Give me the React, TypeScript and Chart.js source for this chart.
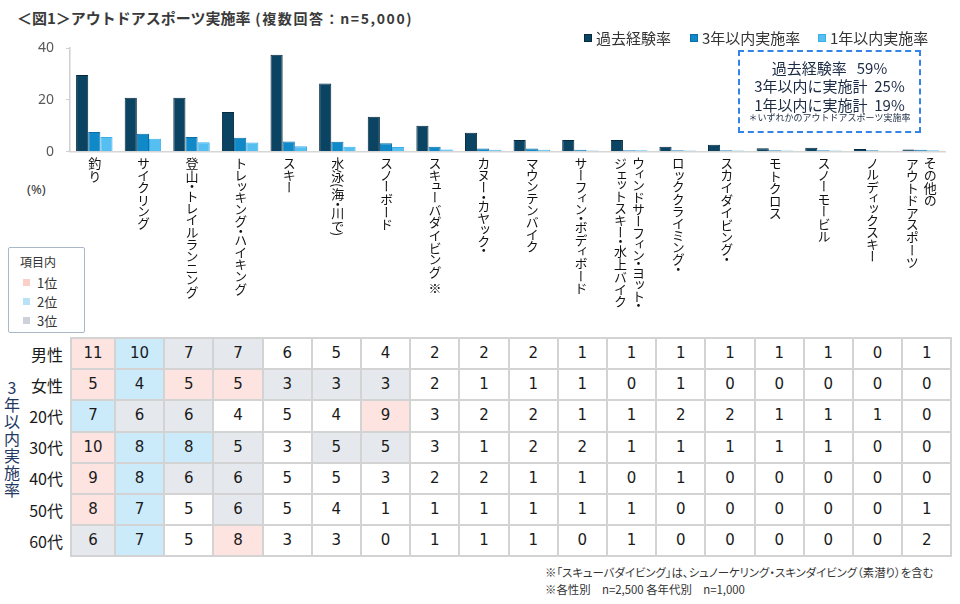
import React, { useEffect, useRef, useState } from "react";
import { Chart, registerables } from "chart.js";

Chart.register(...registerables);

// ---------- data ----------
const categories: string[][] = [
  ["釣り"],
  ["サイクリング"],
  ["登山・トレイルランニング"],
  ["トレッキング・ハイキング"],
  ["スキー"],
  ["水泳(海・川で)"],
  ["スノーボード"],
  ["スキューバダイビング ※"],
  ["カヌー・カヤック・"],
  ["マウンテンバイク"],
  ["サーフィン・ボディボード"],
  ["ウィンドサーフィン・ヨット・", "ジェットスキー・水上バイク"],
  ["ロッククライミング・"],
  ["スカイダイビング・"],
  ["モトクロス"],
  ["スノーモービル"],
  ["ノルディックスキー"],
  ["その他の", "アウトドアスポーツ"],
];

const seriesNames = ["過去経験率", "3年以内実施率", "1年以内実施率"];
const pastExperience = [29.6, 20.8, 20.8, 15.3, 37.4, 26.3, 13.5, 10.0, 7.3, 4.5, 4.5, 4.5, 1.9, 2.6, 1.3, 1.5, 1.0, 0.8];
const within3Years = [7.6, 6.9, 5.6, 5.3, 3.9, 3.8, 3.2, 1.9, 1.2, 1.2, 0.7, 0.5, 0.5, 0.5, 0.5, 0.5, 0.5, 0.7];
const within1Year = [5.6, 5.0, 3.6, 3.5, 2.1, 1.9, 1.8, 0.8, 0.7, 0.7, 0.4, 0.5, 0.4, 0.4, 0.4, 0.4, 0.3, 0.5];
const yTicks = [0, 20, 40];

const summaryLines = ["過去経験率\u00a0\u00a0\u00a059%", "3年以内に実施計\u00a0\u00a025%", "1年以内に実施計\u00a0\u00a019%"];
const summaryNote = "＊いずれかのアウトドアスポーツ実施率";

const rowLabels = ["男性", "女性", "20代", "30代", "40代", "50代", "60代"];
const rowMale = [11, 10, 7, 7, 6, 5, 4, 2, 2, 2, 1, 1, 1, 1, 1, 1, 0, 1];
const rowFemale = [5, 4, 5, 5, 3, 3, 3, 2, 1, 1, 1, 0, 1, 0, 0, 0, 0, 0];
const row20s = [7, 6, 6, 4, 5, 4, 9, 3, 2, 2, 1, 1, 2, 2, 1, 1, 1, 0];
const row30s = [10, 8, 8, 5, 3, 5, 5, 3, 1, 2, 2, 1, 1, 1, 1, 1, 0, 0];
const row40s = [9, 8, 6, 6, 5, 5, 3, 2, 2, 1, 1, 0, 1, 0, 0, 0, 0, 0];
const row50s = [8, 7, 5, 6, 5, 4, 1, 1, 1, 1, 1, 1, 0, 0, 0, 0, 0, 1];
const row60s = [6, 7, 5, 8, 3, 3, 0, 1, 1, 1, 0, 1, 0, 0, 0, 0, 0, 2];
const tableRows = [rowMale, rowFemale, row20s, row30s, row40s, row50s, row60s];
const rankLabels = ["1位", "2位", "3位"];

// ---------- styles ----------
const JP = '"Noto Sans CJK JP", "Noto Sans", sans-serif';
const COLORS = ["#0A4462", "#1089C9", "#55BFF2"];
const BORDERS = ["#052A40", "#0B6EA8", "#3BAEEA"];
const RANK_BG = ["#FDE4E1", "#CCEBFA", "#E5E8EC"];
const RANK_SQ = ["#F9CFC8", "#B9E2F7", "#CDD2DA"];

const TABLE_LEFT = 71;
const TABLE_TOP = 338;
const FIRST_COL_W = 44;
const COL_W = 49.2;
const ROW_H = 31.2;

function denseRank(row: number[]): number[] {
  const uniq = Array.from(new Set(row)).sort((a, b) => b - a);
  return row.map((v) => uniq.indexOf(v));
}

export default function App() {
  const canvasRef = useRef<HTMLCanvasElement>(null);
  const [xs, setXs] = useState<number[]>([]);

  useEffect(() => {
    const chart = new Chart(canvasRef.current as HTMLCanvasElement, {
      type: "bar",
      data: {
        labels: categories.map((c) => c.join("")),
        datasets: [pastExperience, within3Years, within1Year].map((d, i) => ({
          label: seriesNames[i],
          data: d,
          backgroundColor: COLORS[i],
          borderColor: BORDERS[i],
          borderWidth: 1,
          categoryPercentage: 0.75,
          barPercentage: 1,
        })),
      },
      options: {
        responsive: false,
        animation: false,
        maintainAspectRatio: false,
        layout: { padding: { left: 30, right: 15, top: 48, bottom: 9 } },
        plugins: { legend: { display: false }, tooltip: { enabled: false }, title: { display: false } },
        scales: {
          x: {
            ticks: { display: false },
            grid: { display: false },
            border: { display: true, color: "#D6D6D6", width: 1.5 },
            afterFit: (s: any) => {
              s.height = 0;
            },
          },
          y: {
            min: 0,
            max: 40,
            afterBuildTicks: (s: any) => {
              s.ticks = yTicks.map((v) => ({ value: v }));
            },
            ticks: {
              font: { family: '"Noto Sans", sans-serif', size: 14 },
              color: "#595959",
              padding: 12,
            },
            grid: { display: true, drawOnChartArea: false, drawTicks: true, tickLength: 4, color: "#D0D0D0" },
            border: { display: true, color: "#D0D0D0", width: 1.5 },
            afterFit: (s: any) => {
              s.width = 40;
            },
          },
        },
      },
    } as any);
    const sx = chart.scales.x;
    setXs(categories.map((_, i) => sx.getPixelForValue(i)));
    return () => chart.destroy();
  }, []);

  const legendPos = [
    { sq: 584, tx: 596 },
    { sq: 690, tx: 702 },
    { sq: 818, tx: 830 },
  ];

  const cells: React.ReactNode[] = [];
  tableRows.forEach((row, r) => {
    const ranks = denseRank(row);
    row.forEach((v, c) => {
      const left = c === 0 ? 0 : FIRST_COL_W + (c - 1) * COL_W;
      const width = c === 0 ? FIRST_COL_W : COL_W;
      const rk = ranks[c];
      cells.push(
        <div
          key={`${r}-${c}`}
          style={{
            position: "absolute",
            left,
            top: r * ROW_H,
            width,
            height: ROW_H,
            boxSizing: "border-box",
            border: "1px solid #D3D3D3",
            background: rk < 3 ? RANK_BG[rk] : "#FFFFFF",
            font: `15px "DejaVu Sans", sans-serif`,
            color: "#1A1A1A",
            lineHeight: `${ROW_H - 2}px`,
            textAlign: "center",
          }}
        >
          {v}
        </div>
      );
    });
  });
  const tableW = FIRST_COL_W + 17 * COL_W;

  return (
    <div style={{ position: "absolute", left: 0, top: 0, width: 960, height: 604, background: "#fff", overflow: "hidden", fontFamily: JP }}>
      {/* title */}
      <div style={{ position: "absolute", left: 17, top: 6, height: 22, lineHeight: "22px", whiteSpace: "nowrap", color: "#3A3A3A", fontWeight: 700 }}>
        <span style={{ fontSize: 15 }}>＜図1＞アウトドアスポーツ実施率</span>
        <span style={{ fontSize: 14, letterSpacing: 1.6 }}> (複数回答：n=5,000)</span>
      </div>

      <canvas ref={canvasRef} width={960} height={172} style={{ position: "absolute", left: 0, top: 0, width: 960, height: 172 }} />

      {/* legend */}
      {seriesNames.map((n, i) => (
        <React.Fragment key={n}>
          <div style={{ position: "absolute", left: legendPos[i].sq, top: 34, width: 8, height: 8, background: COLORS[i], border: `1px solid ${BORDERS[i]}`, boxSizing: "border-box" }} />
          <div style={{ position: "absolute", left: legendPos[i].tx, top: 27, height: 22, lineHeight: "22px", fontSize: 15, color: "#333", whiteSpace: "nowrap" }}>{n}</div>
        </React.Fragment>
      ))}

      {/* summary box */}
      <div style={{ position: "absolute", left: 738, top: 50, width: 183, height: 83, boxSizing: "border-box", border: "2px dashed #3384E6" }} />
      {summaryLines.map((t, i) => (
        <div key={t} style={{ position: "absolute", left: 738, width: 183, top: 68 + i * 18.3 - 10, height: 20, lineHeight: "20px", textAlign: "center", fontSize: 15, color: "#1C2B44", whiteSpace: "nowrap" }}>{t}</div>
      ))}
      <div style={{ position: "absolute", left: 738, width: 183, top: 112, height: 12, lineHeight: "12px", textAlign: "center", fontSize: 9, color: "#1C2B44", whiteSpace: "nowrap" }}>{summaryNote}</div>

      {/* (%) */}
      <div style={{ position: "absolute", left: 27, top: 180, height: 18, lineHeight: "18px", fontSize: 13, color: "#333", fontFamily: '"Noto Sans", sans-serif' }}>(%)</div>

      {/* vertical category labels */}
      {xs.map((x, i) => (
        <div
          key={i}
          style={{
            position: "absolute",
            left: x,
            top: 157,
            transform: "translateX(-50%)",
            writingMode: "vertical-rl",
            fontSize: 13,
            lineHeight: "18px",
            whiteSpace: "nowrap",
            color: "#111",
            fontFeatureSettings: '"vpal"',
          }}
        >
          {categories[i].map((l, k) => (
            <React.Fragment key={k}>
              {k > 0 && <br />}
              {l}
            </React.Fragment>
          ))}
        </div>
      ))}

      {/* rank legend */}
      <div style={{ position: "absolute", left: 8, top: 247, width: 77, height: 86, boxSizing: "border-box", border: "1.5px solid #AAB7C6", borderRadius: 2 }} />
      <div style={{ position: "absolute", left: 20, top: 254, height: 16, lineHeight: "16px", fontSize: 12, color: "#333" }}>項目内</div>
      {rankLabels.map((t, i) => (
        <React.Fragment key={t}>
          <div style={{ position: "absolute", left: 23, top: 279 + i * 19, width: 7, height: 7, background: RANK_SQ[i] }} />
          <div style={{ position: "absolute", left: 37, top: 274 + i * 19, height: 17, lineHeight: "17px", fontSize: 13, color: "#333" }}>{t}</div>
        </React.Fragment>
      ))}

      {/* side label */}
      <div
        style={{
          position: "absolute",
          left: 3,
          top: 380,
          width: 17,
          writingMode: "vertical-rl",
          textOrientation: "upright",
          fontSize: 16,
          lineHeight: "17px",
          letterSpacing: 1,
          color: "#1F3864",
          whiteSpace: "nowrap",
        }}
      >
        3年以内実施率
      </div>

      {/* row labels */}
      {rowLabels.map((t, r) => (
        <div key={t} style={{ position: "absolute", right: 960 - 63, top: TABLE_TOP + r * ROW_H + ROW_H / 2 - 11, height: 22, lineHeight: "22px", fontSize: 16, color: "#1A1A1A", whiteSpace: "nowrap" }}>{t}</div>
      ))}

      {/* table */}
      <div style={{ position: "absolute", left: TABLE_LEFT - 1, top: TABLE_TOP - 1, width: tableW + 2, height: ROW_H * 7 + 2, boxSizing: "border-box", border: "1px solid #D3D3D3" }} />
      <div style={{ position: "absolute", left: TABLE_LEFT, top: TABLE_TOP, width: tableW, height: ROW_H * 7 }}>{cells}</div>

      {/* footnotes */}
      <div style={{ position: "absolute", left: 545, top: 564, height: 16, lineHeight: "16px", fontSize: 11.4, color: "#333", whiteSpace: "nowrap", fontFeatureSettings: '"palt"' }}>
        ※「スキューバダイビング」は、シュノーケリング・スキンダイビング（素潜り）を含む
      </div>
      <div style={{ position: "absolute", left: 545, top: 581, height: 16, lineHeight: "16px", fontSize: 11.4, color: "#333", whiteSpace: "nowrap", fontFeatureSettings: '"palt"' }}>
        ※各性別　n=2,500 各年代別　n=1,000
      </div>
    </div>
  );
}
